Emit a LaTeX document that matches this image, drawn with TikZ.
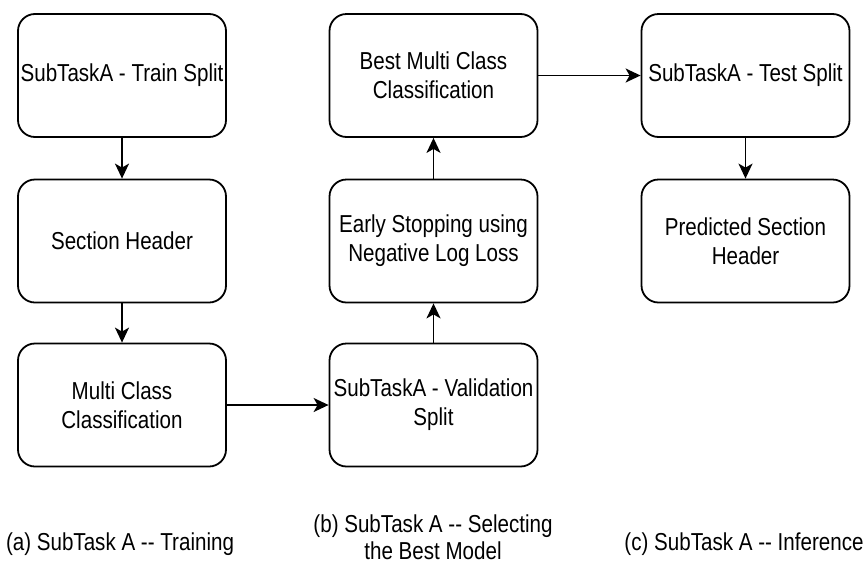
\documentclass[tikz,border=0pt]{standalone}
\usepackage{fontspec}
\setmainfont{Liberation Sans}[FakeStretch=0.84]
\usetikzlibrary{arrows.meta}

\begin{document}
\begin{tikzpicture}[x=1pt,y=-1pt,
    box/.style={draw,line width=1.8pt,rounded corners=17pt,minimum width=208pt,minimum height=123pt,
      align=center,inner sep=1pt,font=\fontsize{24.5}{29}\selectfont},
    arr/.style={-{Stealth[length=15pt,width=14pt,inset=4pt]},line width=1.8pt},
    subcap/.style={align=center,inner sep=0pt,font=\fontsize{24.5}{27}\selectfont}]
  \useasboundingbox (0,0) rectangle (867,563);
  % training column
  \node[box] (train) at (122,75.5) {SubTaskA - Train Split};
  \node[box] (header) at (122,241) {Section Header};
  \node[box] (multi) at (122,405) {Multi Class\\Classification};
  % model selection column
  \node[box] (valid) at (433.5,405) {SubTaskA - Validation\\Split};
  \node[box] (early) at (433.5,241) {Early Stopping using\\Negative Log Loss};
  \node[box] (best) at (433.5,75.5) {Best Multi Class\\Classification};
  % inference column
  \node[box] (test) at (745.5,75.5) {SubTaskA - Test Split};
  \node[box] (pred) at (745.5,241) {Predicted Section\\Header};
  \draw[arr] (train) -- (header);
  \draw[arr] (header) -- (multi);
  \draw[arr] (multi) -- (valid);
  \draw[arr] (valid) -- (early);
  \draw[arr] (early) -- (best);
  \draw[arr] (best) -- (test);
  \draw[arr] (test) -- (pred);
  % captions
  \node[subcap,anchor=base] (capa) at (120,550) {(a) SubTask A -{}- Training};
  \node[subcap] (capb) at (433,537) {(b) SubTask A -{}- Selecting\\the Best Model};
  \node[subcap,anchor=base] (capc) at (744,550) {(c) SubTask A -{}- Inference};
\end{tikzpicture}
\end{document}
